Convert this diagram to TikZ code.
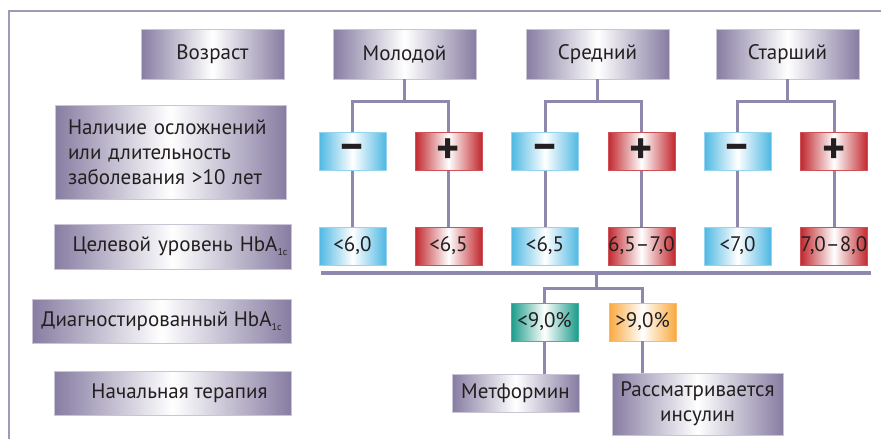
\documentclass[tikz,border=0pt]{standalone}
\usepackage{fontspec}
\setmainfont{PT Sans}
\usetikzlibrary{calc}
\definecolor{pdark}{HTML}{877DA2}
\definecolor{pline}{HTML}{8F88AC}
\definecolor{bdark}{HTML}{4FB8E3}
\definecolor{rdark}{HTML}{C1272D}
\definecolor{tdark}{HTML}{1A9C8A}
\definecolor{odark}{HTML}{F9A93F}
\definecolor{txt}{HTML}{231F20}
\newcommand{\hba}{HbA\raisebox{-0.35ex}{\fontsize{10}{10}\selectfont 1c}}
\tikzset{
  box/.style={inner sep=0pt, text=txt, font=\fontsize{21}{25}\selectfont, line width=0.8pt},
  pbox/.style={box, left color=pdark, right color=pdark, middle color=white, draw=pdark!45},
  bbox/.style={box, left color=bdark, right color=bdark, middle color=white, draw=bdark!60, minimum width=67pt, minimum height=38pt},
  rbox/.style={box, left color=rdark, right color=rdark, middle color=white, draw=rdark!80, minimum width=67pt, minimum height=38pt},
  tbox/.style={box, left color=tdark, right color=tdark, middle color=white, draw=tdark!80, minimum width=67pt, minimum height=38pt},
  obox/.style={box, left color=odark, right color=odark, middle color=white, draw=odark!80, minimum width=67pt, minimum height=38pt},
  sign/.style={font=\fontsize{44}{44}\selectfont\bfseries},
  conn/.style={draw=pline, line width=3pt},
}
\begin{document}
\begin{tikzpicture}[x=1pt,y=-1pt]
\useasboundingbox (0,0) rectangle (881,439);
\draw[draw=pline!85, line width=2.5pt] (9,445) -- (9,11) -- (890,11);
% left column
\node[pbox, minimum width=231pt, minimum height=94pt, align=left, text width=205pt] (nal) at (170.5,152) {Наличие осложнений\\или длительность\\заболевания >10 лет};
\node[pbox, minimum width=143pt, minimum height=50pt] (voz) at (212.5,54) {Возраст};
\node[pbox, minimum width=237pt, minimum height=45pt, align=right, text width=230pt] (tsel) at (172.5,246.5) {Целевой уровень \hba};
\node[pbox, minimum width=259pt, minimum height=44pt] (diag) at (161.5,321) {Диагностированный \hba};
\node[pbox, minimum width=237pt, minimum height=44pt] (nach) at (172.5,393) {\hspace{14pt}Начальная терапия};
% ages
\node[pbox, minimum width=143pt, minimum height=50pt] (mol) at (404.5,54) {Молодой};
\node[pbox, minimum width=143pt, minimum height=50pt] (sred) at (597.5,54) {Средний};
\node[pbox, minimum width=143pt, minimum height=50pt] (star) at (787.5,54) {Старший};
% signs
\node[bbox, sign] (m1) at (352.5,151.5) {–};
\node[rbox, sign] (p1) at (448.5,151.5) {+};
\node[bbox, sign] (m2) at (545,151.5) {–};
\node[rbox, sign] (p2) at (641.5,151.5) {+};
\node[bbox, sign] (m3) at (737.5,151.5) {–};
\node[rbox, sign] (p3) at (834,151.5) {+};
% targets
\node[bbox] (t1) at (352.5,246) {<6,0};
\node[rbox] (t2) at (448.5,246) {<6,5};
\node[bbox] (t3) at (545,246) {<6,5};
\node[rbox] (t4) at (641.5,246) {6,5–7,0};
\node[bbox] (t5) at (737.5,246) {<7,0};
\node[rbox] (t6) at (834,246) {7,0–8,0};
% diagnosed
\node[tbox] (dl) at (544.5,322) {<9,0\%};
\node[obox] (dh) at (642.5,322) {>9,0\%};
% therapy
\node[pbox, minimum width=127pt, minimum height=38pt] (met) at (515.5,393) {Метформин};
\node[pbox, minimum width=171pt, minimum height=62pt, align=center] (ins) at (697.5,404) {Рассматривается\\инсулин};
% connectors
\coordinate (j1) at (404.5,101);
\coordinate (j2) at (597.5,101);
\coordinate (j3) at (787.5,101);
\draw[conn] (mol.south) -- (j1);
\draw[conn] (m1.north) |- (j1) -| (p1.north);
\draw[conn] (sred.south) -- (j2);
\draw[conn] (m2.north) |- (j2) -| (p2.north);
\draw[conn] (star.south) -- (j3);
\draw[conn] (m3.north) |- (j3) -| (p3.north);
\foreach \a/\b in {m1/t1,p1/t2,m2/t3,p2/t4,m3/t5,p3/t6}{\draw[conn] (\a.south) -- (\b.north);}
\coordinate (bl) at (321,273);
\coordinate (br) at (871,273);
\coordinate (bm) at (596,273);
\coordinate (j4) at (596,288);
\draw[conn, line width=3.5pt] (bl) -- (br);
\draw[conn] (bm) -- (j4);
\draw[conn] (dl.north) |- (j4) -| (dh.north);
\draw[conn] (dl.south) -- (dl.south |- met.north);
\draw[conn] (dh.south) -- (dh.south |- ins.north);
\end{tikzpicture}
\end{document}
